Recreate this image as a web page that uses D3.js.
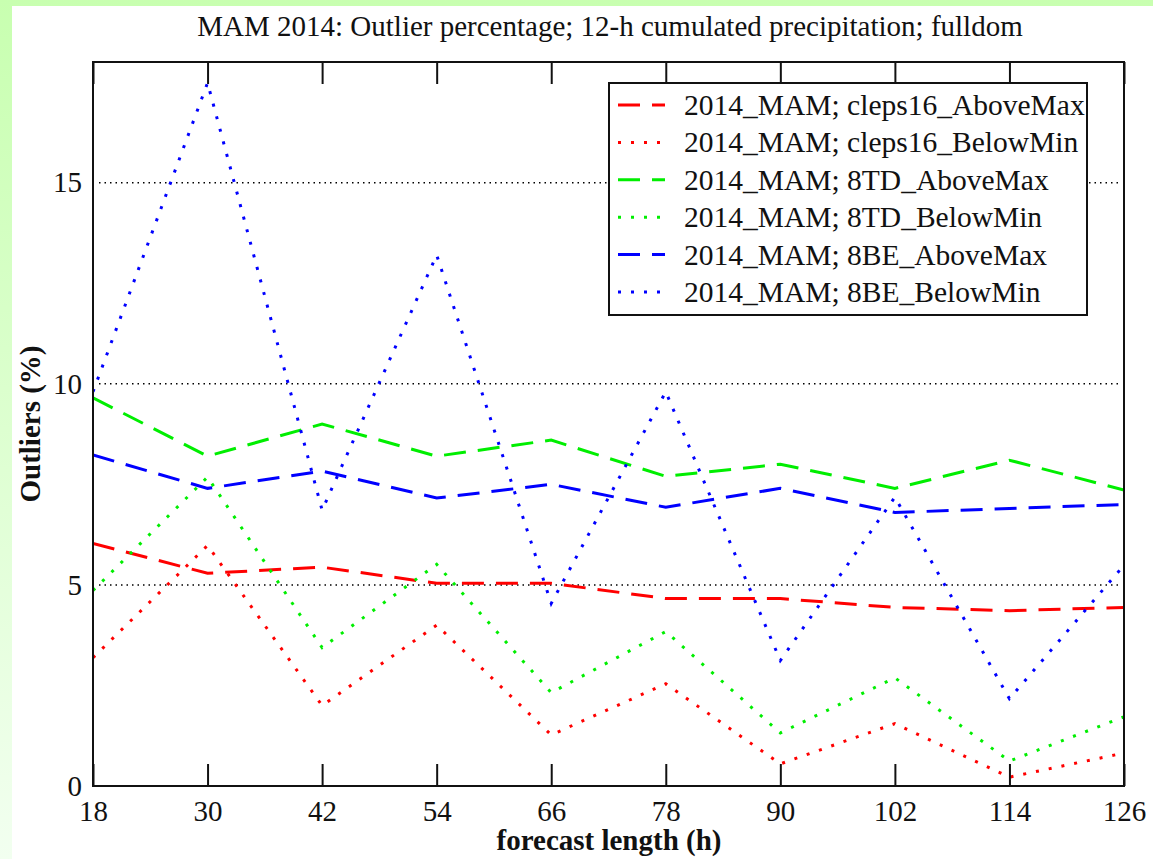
<!DOCTYPE html>
<html lang="en">
<head>
    <meta charset="UTF-8">
    <title>Outlier percentage</title>
    <script src="https://d3js.org/d3.v7.min.js"></script>
    <style>
        body { margin: 0; padding: 0; overflow: hidden; }
        text { font-family: "Liberation Serif", "DejaVu Serif", serif; fill: #111; }
    </style>
</head>
<body>
<svg id="chart" width="1153" height="859"></svg>
<script>

    // forecast lengths (h)
    const hours = [18, 30, 42, 54, 66, 78, 90, 102, 114, 126];

    // outlier percentages
    const cleps16Above = [6.03, 5.29, 5.44, 5.04, 5.04, 4.66, 4.66, 4.44, 4.36, 4.44];
    const cleps16Below = [3.19, 5.98, 2.00, 4.00, 1.27, 2.54, 0.55, 1.55, 0.22, 0.82];
    const td8Above = [9.65, 8.20, 9.00, 8.20, 8.60, 7.70, 8.00, 7.40, 8.10, 7.36];
    const td8Below = [4.86, 7.68, 3.44, 5.51, 2.32, 3.84, 1.32, 2.69, 0.62, 1.72];
    const be8Above = [8.23, 7.40, 7.83, 7.16, 7.50, 6.93, 7.40, 6.80, 6.90, 7.00];
    const be8Below = [9.80, 17.48, 6.86, 13.20, 4.54, 9.80, 3.12, 7.18, 2.17, 5.49];

    const seriesNames = [
        "2014_MAM; cleps16_AboveMax",
        "2014_MAM; cleps16_BelowMin",
        "2014_MAM; 8TD_AboveMax",
        "2014_MAM; 8TD_BelowMin",
        "2014_MAM; 8BE_AboveMax",
        "2014_MAM; 8BE_BelowMin"
    ];
    const yTicks = [0, 5, 10, 15];
    const gridValues = [5, 10, 15];

    const series = [
        {name: seriesNames[0], values: cleps16Above, color: "#ff0000", dotted: false},
        {name: seriesNames[1], values: cleps16Below, color: "#ff0000", dotted: true},
        {name: seriesNames[2], values: td8Above, color: "#00ee00", dotted: false},
        {name: seriesNames[3], values: td8Below, color: "#00ee00", dotted: true},
        {name: seriesNames[4], values: be8Above, color: "#0000ff", dotted: false},
        {name: seriesNames[5], values: be8Below, color: "#0000ff", dotted: true}
    ];

    const svg = d3.select("#chart"),
        width = +svg.attr("width"),
        height = +svg.attr("height");

    // greenish page background with white panel
    const defs = svg.append("defs");
    const grad = defs.append("linearGradient")
        .attr("id", "bg")
        .attr("x1", 0).attr("y1", 0).attr("x2", 0).attr("y2", 1);
    grad.append("stop").attr("offset", "0%").attr("stop-color", "#c8ffb0");
    grad.append("stop").attr("offset", "100%").attr("stop-color", "#f2fff0");

    svg.append("rect").attr("width", width).attr("height", height).attr("fill", "url(#bg)");
    svg.append("rect").attr("x", 12).attr("y", 6)
        .attr("width", width - 12).attr("height", height - 6).attr("fill", "#fff");

    const margin = {left: 93, right: 1124, top: 62, bottom: 786};

    const x = d3.scaleLinear().domain([18, 126]).range([margin.left, margin.right]);
    const y = d3.scaleLinear().domain([0, 18]).range([margin.bottom, margin.top]);

    const clipId = "plotclip";
    defs.append("clipPath").attr("id", clipId)
        .append("rect")
        .attr("x", margin.left).attr("y", margin.top)
        .attr("width", margin.right - margin.left)
        .attr("height", margin.bottom - margin.top);

    // dotted grid lines
    svg.append("g")
        .selectAll("line")
        .data(gridValues)
        .join("line")
        .attr("x1", margin.left + 6)
        .attr("x2", margin.right - 5)
        .attr("y1", d => y(d))
        .attr("y2", d => y(d))
        .attr("stroke", "#000")
        .attr("stroke-width", 1.5)
        .attr("stroke-dasharray", "1.5,4");

    // data lines
    const line = d3.line()
        .x((d, i) => x(hours[i]))
        .y(d => y(d));

    svg.append("g")
        .attr("clip-path", "url(#" + clipId + ")")
        .selectAll("path")
        .data(series)
        .join("path")
        .attr("d", d => line(d.values))
        .attr("fill", "none")
        .attr("stroke", d => d.color)
        .attr("stroke-width", 3)
        .attr("stroke-dasharray", d => d.dotted ? "3,10" : "22,12");

    // frame
    svg.append("rect")
        .attr("x", margin.left).attr("y", margin.top)
        .attr("width", margin.right - margin.left)
        .attr("height", margin.bottom - margin.top)
        .attr("fill", "none")
        .attr("stroke", "#111")
        .attr("stroke-width", 2);

    // inward ticks on bottom and top
    const xAxisBottom = d3.axisBottom(x).tickValues(hours).tickSize(-22).tickFormat(d3.format("d")).tickPadding(14);
    const gx = svg.append("g")
        .attr("transform", `translate(0,${margin.bottom})`)
        .call(xAxisBottom);
    gx.select(".domain").remove();
    gx.selectAll(".tick line").attr("stroke", "#111").attr("stroke-width", 2);
    gx.selectAll(".tick text")
        .attr("font-size", 29)
        .attr("font-family", "Liberation Serif")
        .attr("fill", "#111");

    const xAxisTop = d3.axisTop(x).tickValues(hours).tickSize(-22).tickFormat("");
    const gxt = svg.append("g")
        .attr("transform", `translate(0,${margin.top})`)
        .call(xAxisTop);
    gxt.select(".domain").remove();
    gxt.selectAll(".tick line").attr("stroke", "#111").attr("stroke-width", 2);

    // y tick labels (no tick marks)
    const yAxis = d3.axisLeft(y).tickValues(yTicks).tickSize(0).tickPadding(11).tickFormat(d3.format("d"));
    const gy = svg.append("g")
        .attr("transform", `translate(${margin.left},0)`)
        .call(yAxis);
    gy.select(".domain").remove();
    gy.selectAll(".tick text")
        .attr("font-size", 29)
        .attr("font-family", "Liberation Serif")
        .attr("fill", "#111");

    // title and axis labels
    svg.append("text")
        .attr("x", 610).attr("y", 36)
        .attr("text-anchor", "middle")
        .attr("font-size", 29)
        .text("MAM 2014: Outlier percentage; 12-h cumulated precipitation; fulldom");

    svg.append("text")
        .attr("x", 609).attr("y", 850)
        .attr("text-anchor", "middle")
        .attr("font-size", 29)
        .attr("font-weight", "bold")
        .text("forecast length (h)");

    svg.append("text")
        .attr("transform", "translate(40,424) rotate(-90)")
        .attr("text-anchor", "middle")
        .attr("font-size", 29)
        .attr("font-weight", "bold")
        .text("Outliers (%)");

    // legend
    const legend = svg.append("g");
    legend.append("rect")
        .attr("x", 609).attr("y", 83)
        .attr("width", 478).attr("height", 232)
        .attr("fill", "#fff")
        .attr("stroke", "#111")
        .attr("stroke-width", 2);

    const rowY = d3.scaleLinear().domain([0, 5]).range([105, 292]);
    const rows = legend.selectAll("g.row")
        .data(series)
        .join("g")
        .attr("class", "row")
        .attr("transform", (d, i) => `translate(0,${rowY(i)})`);

    rows.append("line")
        .attr("x1", 618).attr("x2", 665)
        .attr("y1", 0).attr("y2", 0)
        .attr("stroke", d => d.color)
        .attr("stroke-width", 3)
        .attr("stroke-dasharray", d => d.dotted ? "3,10" : "22,12");

    rows.append("text")
        .attr("x", 684).attr("y", 10)
        .attr("font-size", 29.5)
        .text(d => d.name);

</script>
</body>
</html>
